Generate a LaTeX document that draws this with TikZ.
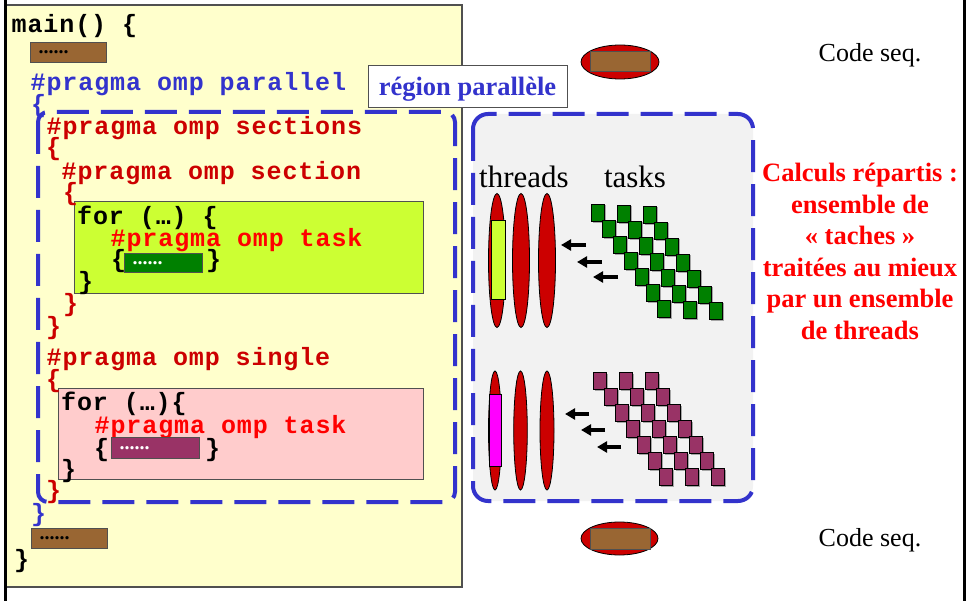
\documentclass[tikz,border=0pt]{standalone}
\usepackage{fontspec}
\setmainfont{Liberation Serif}
\newfontfamily\codefont{Liberation Mono}[LetterSpace=3.6]
\usetikzlibrary{arrows.meta}
\definecolor{codeblue}{HTML}{3333CC}
\definecolor{codedred}{HTML}{CC0000}
\definecolor{codered}{HTML}{FF0000}
\definecolor{pyellow}{HTML}{FFFFCC}
\definecolor{pgreen}{HTML}{CCFF33}
\definecolor{ppink}{HTML}{FFCCCC}
\definecolor{pbrown}{HTML}{996633}
\definecolor{tgreen}{HTML}{008000}
\definecolor{tpurple}{HTML}{993366}
\definecolor{pgray}{HTML}{F2F2F2}
\definecolor{pmagenta}{HTML}{FF00FF}
\definecolor{edgegray}{HTML}{505050}
\begin{document}
\begin{tikzpicture}[x=1pt,y=-1pt,
  code/.style={anchor=base west, inner sep=0pt, font=\codefont\bfseries\fontsize{25}{25}\selectfont},
  dotbox/.style={anchor=north west, draw=edgegray, line width=1pt, inner xsep=8pt, inner ysep=0pt, align=left,
    font=\bfseries\fontsize{20}{20}\selectfont},
  dashbox/.style={draw=codeblue, line width=4pt, dash pattern=on 32pt off 12pt},
  thread/.style={fill=codedred, draw=black, line width=0.8pt},
  calc/.style={anchor=base, inner sep=0pt, text=codered, font=\bfseries\fontsize{26.5}{26.5}\selectfont},
  plain/.style={anchor=base, inner sep=0pt, font=\fontsize{26}{26}\selectfont},
  big/.style={anchor=base, inner sep=0pt, font=\fontsize{31}{31}\selectfont},
  tasksq/.style={draw=black, line width=0.8pt},
  leftarrow/.style={line width=3.5pt, -{Triangle[length=10pt,width=11pt]}}
]
\useasboundingbox (0,0) rectangle (966,601);
\fill[white] (0,0) rectangle (966,601);

% yellow code panel
\filldraw[fill=pyellow, draw=edgegray, line width=1.5pt] (5,5) rectangle (462,587);
\draw[black, line width=3pt] (5,0) -- (5,601);
\draw[black, line width=3pt] (964,0) -- (964,601);

% inner parallel region box
\draw[dashbox, rounded corners=10pt] (38,112) rectangle (455,502);

% green and pink blocks
\filldraw[fill=pgreen, draw=edgegray, line width=1pt] (74,202) rectangle (423,294);
\filldraw[fill=ppink, draw=edgegray, line width=1pt] (58,388) rectangle (423,479);

% code lines
\node[code] (l1) at (11.5,33) {main() \{};
\node[dotbox, fill=pbrown, text=black, minimum height=20pt, text width=60pt] (b1) at (30,42) {......};
\node[code, text=codeblue] (l2) at (30.5,91) {\#pragma omp parallel};
\node[code, text=codeblue] (l3) at (31,113) {\{};
\node[code, text=codedred] (l4) at (46.5,135) {\#pragma omp sections};
\node[code, text=codedred] (l5) at (46,156) {\{};
\node[code, text=codedred] (l6) at (61.5,180) {\#pragma omp section};
\node[code, text=codedred] (l7) at (63,201) {\{};
\node[code] (l8) at (77,225) {for (…) \{};
\node[code, text=codered] (l9) at (110.5,247) {\#pragma omp task};
\node[code] (l10a) at (111,268) {\{};
\node[dotbox, fill=tgreen, text=white, minimum height=19pt, text width=62pt] (g1) at (124,253) {......};
\node[code] (l10b) at (206,268) {\}};
\node[code] (l11) at (78,290) {\}};
\node[code, text=codedred] (l12) at (63,312) {\}};
\node[code, text=codedred] (l13) at (46,335) {\}};
\node[code, text=codedred] (l14) at (46.5,366) {\#pragma omp single};
\node[code, text=codedred] (l15) at (46,387) {\{};
\node[code] (l16) at (61,410) {for (…)\{};
\node[code, text=codered] (l17) at (94.5,433) {\#pragma omp task};
\node[code] (l18a) at (94,456) {\{};
\node[dotbox, fill=tpurple, text=white, minimum height=21pt, text width=72pt] (p1) at (111,437) {......};
\node[code] (l18b) at (205,456) {\}};
\node[code] (l19) at (61,477) {\}};
\node[code, text=codedred] (l20) at (46,498) {\}};
\node[code, text=codeblue] (l21) at (31,521) {\}};
\node[dotbox, fill=pbrown, text=black, minimum height=20pt, text width=60pt] (b2) at (31,528) {......};
\node[code] (l22) at (14,567) {\}};

% region label
\node[draw=edgegray, fill=white, line width=1pt, minimum width=199pt, minimum height=42pt, inner sep=0pt,
  text height=21pt, text depth=3pt, text=codeblue, font=\bfseries\fontsize{26.5}{26.5}\selectfont] (reg) at (467.5,87) {région parallèle};

% task region box
\filldraw[dashbox, fill=pgray, rounded corners=15pt] (473,114) rectangle (753,501);

\node[big] (thr) at (524,188) {threads};
\node[big] (tsk) at (635,188) {tasks};

% threads (top)
\filldraw[thread] (497,260.5) ellipse [x radius=8.5pt, y radius=67pt];
\filldraw[fill=pgreen, draw=black, line width=0.8pt] (491,220) rectangle (505,299);
\filldraw[thread] (521,260.5) ellipse [x radius=8.5pt, y radius=67pt];
\filldraw[thread] (547,260.5) ellipse [x radius=8.5pt, y radius=67pt];

% threads (bottom)
\filldraw[thread] (495,430.5) ellipse [x radius=6.5pt, y radius=59.5pt];
\filldraw[fill=pmagenta, draw=black, line width=0.8pt] (489,394) rectangle (501,466);
\filldraw[thread] (520.5,430.5) ellipse [x radius=6.8pt, y radius=59.5pt];
\filldraw[thread] (547,430.5) ellipse [x radius=7pt, y radius=59.5pt];

% tasks
\foreach \c in {0,1,2} {
  \foreach \r in {0,...,6} {
    \fill[black!35] (591+26*\c+11*\r+1.5, 204+\c+16*\r+1.5) rectangle +(13.5,17.5);
    \filldraw[tasksq, fill=tgreen] (591+26*\c+11*\r, 204+\c+16*\r) rectangle +(13.5,17.5);
    \fill[black!35] (593+26*\c+11*\r+1.5, 372+16*\r+1.5) rectangle +(13.5,17.5);
    \filldraw[tasksq, fill=tpurple] (593+26*\c+11*\r, 372+16*\r) rectangle +(13.5,17.5);
  }
}

% arrows
\draw[leftarrow] (586,245) -- (561,245);
\draw[leftarrow] (602,262) -- (577,262);
\draw[leftarrow] (618,277) -- (593,277);
\draw[leftarrow] (589,414) -- (565,414);
\draw[leftarrow] (605,430) -- (581,430);
\draw[leftarrow] (621,447) -- (597,447);

% sequential code symbols
\filldraw[thread] (620,62) ellipse [x radius=39pt, y radius=17pt];
\filldraw[fill=pbrown, draw=edgegray, line width=1pt] (590,52) rectangle (650,72);
\filldraw[thread] (619.5,538.5) ellipse [x radius=38.5pt, y radius=16.5pt];
\filldraw[fill=pbrown, draw=edgegray, line width=1pt] (590,528) rectangle (650,549);
\node[plain] (cs1) at (870,62) {Code seq.};
\node[plain] (cs2) at (870,546) {Code seq.};

% explanation
\node[calc] (c1) at (860,182) {Calculs répartis :};
\node[calc] (c2) at (860,213.5) {ensemble de};
\node[calc] (c3) at (860,245) {«~taches~»};
\node[calc] (c4) at (860,276.5) {traitées au mieux};
\node[calc] (c5) at (860,308) {par un ensemble};
\node[calc] (c6) at (860,339.5) {de threads};
\end{tikzpicture}
\end{document}
